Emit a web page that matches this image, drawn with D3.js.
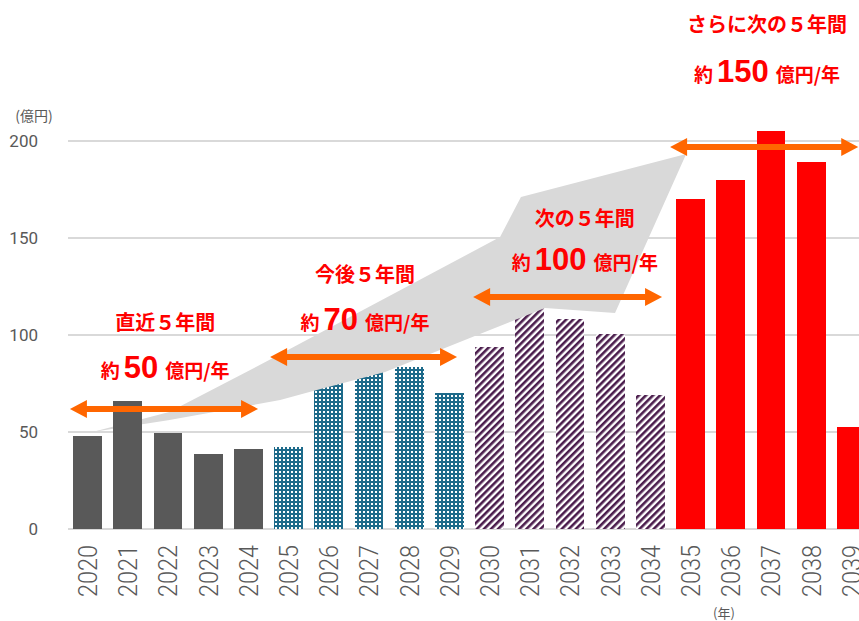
<!DOCTYPE html>
<html>
<head>
<meta charset="utf-8">
<script src="https://cdn.jsdelivr.net/npm/d3@7"></script>
<style>
  body { margin: 0; background: #fff; }
  svg { display: block; font-family: "Noto Sans CJK JP", sans-serif; }
</style>
</head>
<body>
<svg id="chart" width="859" height="621"></svg>
<script>
// data
const years = ["2020","2021","2022","2023","2024","2025","2026","2027","2028","2029",
               "2030","2031","2032","2033","2034","2035","2036","2037","2038","2039"];
const values = [48, 66, 49.5, 38.7, 41.2, 42.3, 80, 82, 83.5, 70,
                94, 114, 108, 100.5, 69, 170, 180, 205, 189, 52.5];
const yTicks = [0, 50, 100, 150, 200];
const periodTitles = ["直近５年間", "今後５年間", "次の５年間", "さらに次の５年間"];
const periodAmounts = ["50", "70", "100", "150"];
const periodUnit = "億円/年";
const yUnit = "(億円)";
const xUnit = "(年)";

let width = 859, height = 621;
let svg = d3.select("#chart");

//#region scales
let x = d3.scaleBand().domain(years).range([67.5, 871.5]).paddingInner(0.28).paddingOuter(0.14);
// index based scale for the annotations (0 = left edge of 2020 band)
let xi = d3.scaleLinear().domain([0, years.length]).range([67.5, 871.5]);
let y = d3.scaleLinear().domain([0, 200]).range([529, 141]);
//#endregion

//#region patterns
let defs = svg.append("defs");
let pTeal = defs.append("pattern").attr("id", "pTeal")
    .attr("patternUnits", "userSpaceOnUse").attr("width", 4).attr("height", 4);
pTeal.append("rect").attr("width", 4).attr("height", 4).attr("fill", "#fff");
pTeal.append("rect").attr("x", 1).attr("y", 0).attr("width", 2).attr("height", 4).attr("fill", "#1d6a8a");
pTeal.append("rect").attr("x", 0).attr("y", 1).attr("width", 4).attr("height", 2).attr("fill", "#1d6a8a");

let pPurple = defs.append("pattern").attr("id", "pPurple")
    .attr("patternUnits", "userSpaceOnUse").attr("width", 5).attr("height", 5)
    .attr("patternTransform", "rotate(45)");
pPurple.append("rect").attr("width", 5).attr("height", 5).attr("fill", "#fff");
pPurple.append("rect").attr("width", 2.6).attr("height", 5).attr("fill", "#4a1c4c");
//#endregion

function barFill(i) {
    if (i < 5) return "#595959";
    if (i < 10) return "url(#pTeal)";
    if (i < 15) return "url(#pPurple)";
    return "#ff0000";
}

//#region grid + axes
svg.append("g").selectAll("line").data(yTicks).join("line")
    .attr("x1", 68).attr("x2", width)
    .attr("y1", d => y(d)).attr("y2", d => y(d))
    .attr("stroke", "#d9d9d9").attr("stroke-width", 2);

let yAxis = d3.axisLeft(y).tickValues(yTicks).tickSize(0).tickPadding(0);
svg.append("g").attr("transform", "translate(38,0)").call(yAxis)
    .call(g => g.select(".domain").remove())
    .selectAll("text")
    .attr("font-family", "Roboto, 'Liberation Sans', sans-serif")
    .attr("font-size", 17).attr("fill", "#595959");

svg.append("text").attr("x", 34).attr("y", 121).attr("text-anchor", "middle")
    .attr("font-size", 14).attr("fill", "#595959").text(yUnit);

svg.append("g").selectAll("text").data(years).join("text")
    .attr("transform", d => `translate(${x(d) + x.bandwidth() / 2},597) rotate(-90)`)
    .attr("dy", "0.36em")
    .attr("font-family", "Roboto, 'Liberation Sans', sans-serif")
    .attr("font-weight", 300)
    .attr("font-size", 26).attr("fill", "#595959")
    .attr("textLength", 52).attr("lengthAdjust", "spacingAndGlyphs")
    .text(d => d);

svg.append("text").attr("x", 724).attr("y", 618).attr("text-anchor", "middle")
    .attr("font-size", 13).attr("fill", "#595959").text(xUnit);
//#endregion

let barData = years.map((d, i) => ({ year: d, value: values[i], i: i }));
let patterned = barData.filter(d => d.i >= 5 && d.i < 15);
let solid = barData.filter(d => d.i < 5 || d.i >= 15);

// patterned bars sit under the big grey arrow
svg.append("g").selectAll("rect").data(patterned).join("rect")
    .attr("x", d => x(d.year)).attr("width", x.bandwidth())
    .attr("y", d => y(d.value)).attr("height", d => y(0) - y(d.value))
    .attr("fill", d => barFill(d.i)).attr("shape-rendering", "crispEdges");

//#region big grey arrow (index, value)
const greyArrow = [
    [0.62, 50], [2.53, 60.3], [5.11, 88.1], [10.76, 150.5], [11.28, 171.1],
    [15.39, 193.3], [13.62, 111.3], [11.88, 113.9], [10.01, 98.5],
    [7.90, 80.9], [6.11, 71.1], [5.29, 66.5], [2.5, 56]
];
svg.append("path")
    .attr("d", d3.line().x(d => xi(d[0])).y(d => y(d[1]))(greyArrow) + "Z")
    .attr("fill", "#d9d9d9");
//#endregion

svg.append("g").selectAll("rect").data(solid).join("rect")
    .attr("x", d => x(d.year)).attr("width", x.bandwidth())
    .attr("y", d => y(d.value)).attr("height", d => y(0) - y(d.value))
    .attr("fill", d => barFill(d.i)).attr("shape-rendering", "crispEdges");

//#region orange double arrows: [start idx, end idx, value]
const spans = [[0.06, 4.74, 61.9], [5.04, 9.69, 88.7], [10.09, 14.79, 119.6], [14.99, 19.67, 196.9]];
function dblArrow(x1, x2, yc) {
    let hl = 17, hw = 9, t = 3;
    return d3.line()([
        [x1, yc], [x1 + hl, yc - hw], [x1 + hl, yc - t], [x2 - hl, yc - t], [x2 - hl, yc - hw],
        [x2, yc], [x2 - hl, yc + hw], [x2 - hl, yc + t], [x1 + hl, yc + t], [x1 + hl, yc + hw]
    ]) + "Z";
}
svg.append("g").selectAll("path").data(spans).join("path")
    .attr("d", d => dblArrow(xi(d[0]), xi(d[1]), y(d[2])))
    .attr("fill", "#ff6600");
//#endregion

//#region red period labels: [center idx, title value, amount value]
const labelPos = [[2.43, 102.6, 77.8], [7.40, 127.3, 102.6], [12.87, 156.2, 133.5], [17.40, 256.2, 230.4]];
let lab = svg.append("g").attr("fill", "#ff0000").attr("font-weight", "bold").attr("text-anchor", "middle");
labelPos.forEach((p, k) => {
    lab.append("text").attr("x", xi(p[0])).attr("y", y(p[1]))
        .attr("font-size", 20).text(periodTitles[k]);
    let t = lab.append("text").attr("x", xi(p[0])).attr("y", y(p[2])).attr("font-size", 19);
    t.append("tspan").text("約");
    t.append("tspan").attr("dx", 4)
        .attr("font-family", "'Liberation Sans', Arial, sans-serif")
        .attr("font-size", 31).text(periodAmounts[k]);
    t.append("tspan").attr("dx", 7).text(periodUnit);
});
//#endregion
</script>
</body>
</html>
